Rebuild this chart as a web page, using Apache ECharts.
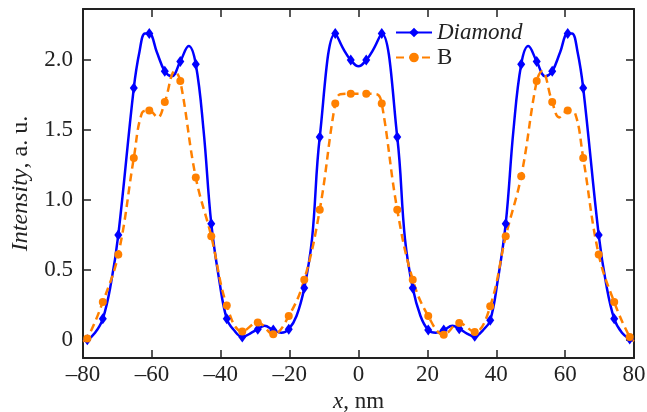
<!DOCTYPE html>
<html><head><meta charset="utf-8">
<script src="https://cdn.jsdelivr.net/npm/echarts@6/dist/echarts.min.js"></script>
<style>html,body{margin:0;padding:0;background:#fff}#c{width:647px;height:412px}</style>
</head><body><div id="c"></div>
<script>
const xTicks = [-80, -60, -40, -20, 0, 20, 40, 60, 80];
const yTicks = [0, 0.5, 1.0, 1.5, 2.0];
const markerX = [-78.75,-74.25,-69.75,-65.25,-60.75,-56.25,-51.75,-47.25,-42.75,-38.25,-33.75,-29.25,-24.75,-20.25,-15.75,-11.25,-6.75,-2.25,
                 2.25,6.75,11.25,15.75,20.25,24.75,29.25,33.75,38.25,42.75,47.25,51.75,56.25,60.75,65.25,69.75,74.25,78.75];
const diamondY = [0.00,0.15,0.75,1.80,2.19,1.92,1.99,1.97,0.83,0.15,0.02,0.076,0.07,0.076,0.37,1.45,2.19,2.00,
                  2.00,2.19,1.45,0.37,0.07,0.07,0.08,0.025,0.14,0.83,1.97,1.99,1.92,2.19,1.80,0.75,0.15,0.005];
const bY = [0.01,0.27,0.61,1.30,1.64,1.70,1.85,1.16,0.74,0.245,0.06,0.124,0.04,0.17,0.43,0.93,1.69,1.76,
            1.76,1.69,0.93,0.43,0.17,0.036,0.12,0.055,0.24,0.74,1.17,1.85,1.70,1.64,1.30,0.61,0.27,0.02];
// curve points between markers (no marker drawn)
const diamondExtraX = [-80,-76.5,-71.9,-63.6,-62.0,-58.6,-54.2,-49.3,-45.0,-40.4,-36.2,-31.5,-27.3,-22.4,-18.0,-13.5,-4.4,0,
                       4.4,13.5,18.0,22.4,27.3,31.5,36.2,40.4,45.0,49.3,54.2,58.6,62.0,63.6,71.9,76.5,80];
const diamondExtraY = [-0.005,0.05,0.40,2.06,2.19,2.06,1.885,2.10,1.50,0.42,0.07,0.045,0.10,0.05,0.17,0.72,2.08,1.955,
                       2.08,0.72,0.17,0.05,0.10,0.045,0.07,0.42,1.50,2.10,1.885,2.06,2.19,2.06,0.40,0.05,-0.005];
const bExtraX = [-80,-62.9,-58.3,-53.3,-5.3,0,5.3,53.3,58.3,62.9,80];
const bExtraY = [-0.01,1.62,1.59,1.92,1.755,1.76,1.755,1.92,1.59,1.62,-0.01];

function build(xs, ys, exX, exY) {
  const pts = xs.map((x, i) => ({ value: [x, ys[i]] }));
  exX.forEach((x, i) => pts.push({ value: [x, exY[i]], symbol: 'none' }));
  pts.sort((a, b) => a.value[0] - b.value[0]);
  return pts;
}
const FONT = '"Liberation Serif", "Times New Roman", Times, serif';
const AX = '#222';
const FS = 23;
const chart = echarts.init(document.getElementById('c'), null, { renderer: 'canvas' });
const axisCommon = {
  axisLine: { show: true, onZero: false, lineStyle: { color: AX, width: 2 } },
  axisTick: { show: true, inside: true, length: 8, lineStyle: { color: AX, width: 1.5 } },
  splitLine: { show: false }
};
chart.setOption({
  animation: false,
  backgroundColor: '#fff',
  grid: { left: 83, right: 13, top: 9, bottom: 54, outerBoundsMode: 'none', containLabel: false },
  legend: {
    left: 395, top: 21, orient: 'vertical', itemWidth: 36, itemHeight: 12, itemGap: 2, padding: 0,
    data: ['Diamond', 'B'],
    formatter: n => n === 'Diamond' ? '{i|Diamond}' : '{n|B}',
    textStyle: { fontFamily: FONT, fontSize: FS, color: AX,
      rich: { i: { fontFamily: FONT, fontSize: FS, fontStyle: 'italic', color: AX }, n: { fontFamily: FONT, fontSize: FS, color: AX } } }
  },
  xAxis: [
    Object.assign({ type: 'value', min: -80, max: 80, interval: 20, position: 'bottom',
      axisLabel: { fontFamily: FONT, fontSize: FS, color: AX, margin: 5,
        formatter: v => v < 0 ? '\u2013' + Math.abs(v) : String(v) },
      name: '{i|x}, nm', nameLocation: 'middle', nameGap: 28,
      nameTextStyle: { fontFamily: FONT, fontSize: FS, color: AX,
        rich: { i: { fontFamily: FONT, fontSize: FS, fontStyle: 'italic', color: AX } } }
    }, axisCommon),
    Object.assign({ type: 'value', min: -80, max: 80, interval: 20, position: 'top', axisLabel: { show: false } }, axisCommon)
  ],
  yAxis: [
    Object.assign({ type: 'value', min: -0.13, max: 2.365, position: 'left',
      axisTick: { show: true, inside: true, length: 8, customValues: yTicks, lineStyle: { color: AX, width: 1.5 } },
      axisLabel: { fontFamily: FONT, fontSize: FS, color: AX, margin: 10, customValues: yTicks,
        formatter: v => v === 0 ? '0' : v.toFixed(1) },
      name: '{i|Intensity}, a. u.', nameLocation: 'middle', nameGap: 50, nameRotate: 90,
      nameTextStyle: { fontFamily: FONT, fontSize: 24, color: AX,
        rich: { i: { fontFamily: FONT, fontSize: 24, fontStyle: 'italic', color: AX } } }
    }, { axisLine: axisCommon.axisLine, splitLine: { show: false } }),
    { type: 'value', min: -0.13, max: 2.365, position: 'right',
      axisLine: axisCommon.axisLine, splitLine: { show: false },
      axisTick: { show: true, inside: true, length: 8, customValues: yTicks, lineStyle: { color: AX, width: 1.5 } },
      axisLabel: { show: false } }
  ],
  series: [
    { type: 'line', name: 'Diamond', data: build(markerX, diamondY, diamondExtraX, diamondExtraY),
      smooth: 0.4, symbol: 'diamond', symbolSize: [8, 11], showAllSymbol: true,
      itemStyle: { color: '#0000ff' }, lineStyle: { color: '#0000ff', width: 2.5 } },
    { type: 'line', name: 'B', data: build(markerX, bY, bExtraX, bExtraY),
      smooth: 0.4, symbol: 'circle', symbolSize: 8, showAllSymbol: true,
      itemStyle: { color: '#ff8000' }, lineStyle: { color: '#ff8000', width: 2.5, type: [8, 5] } }
  ]
});
</script></body></html>
